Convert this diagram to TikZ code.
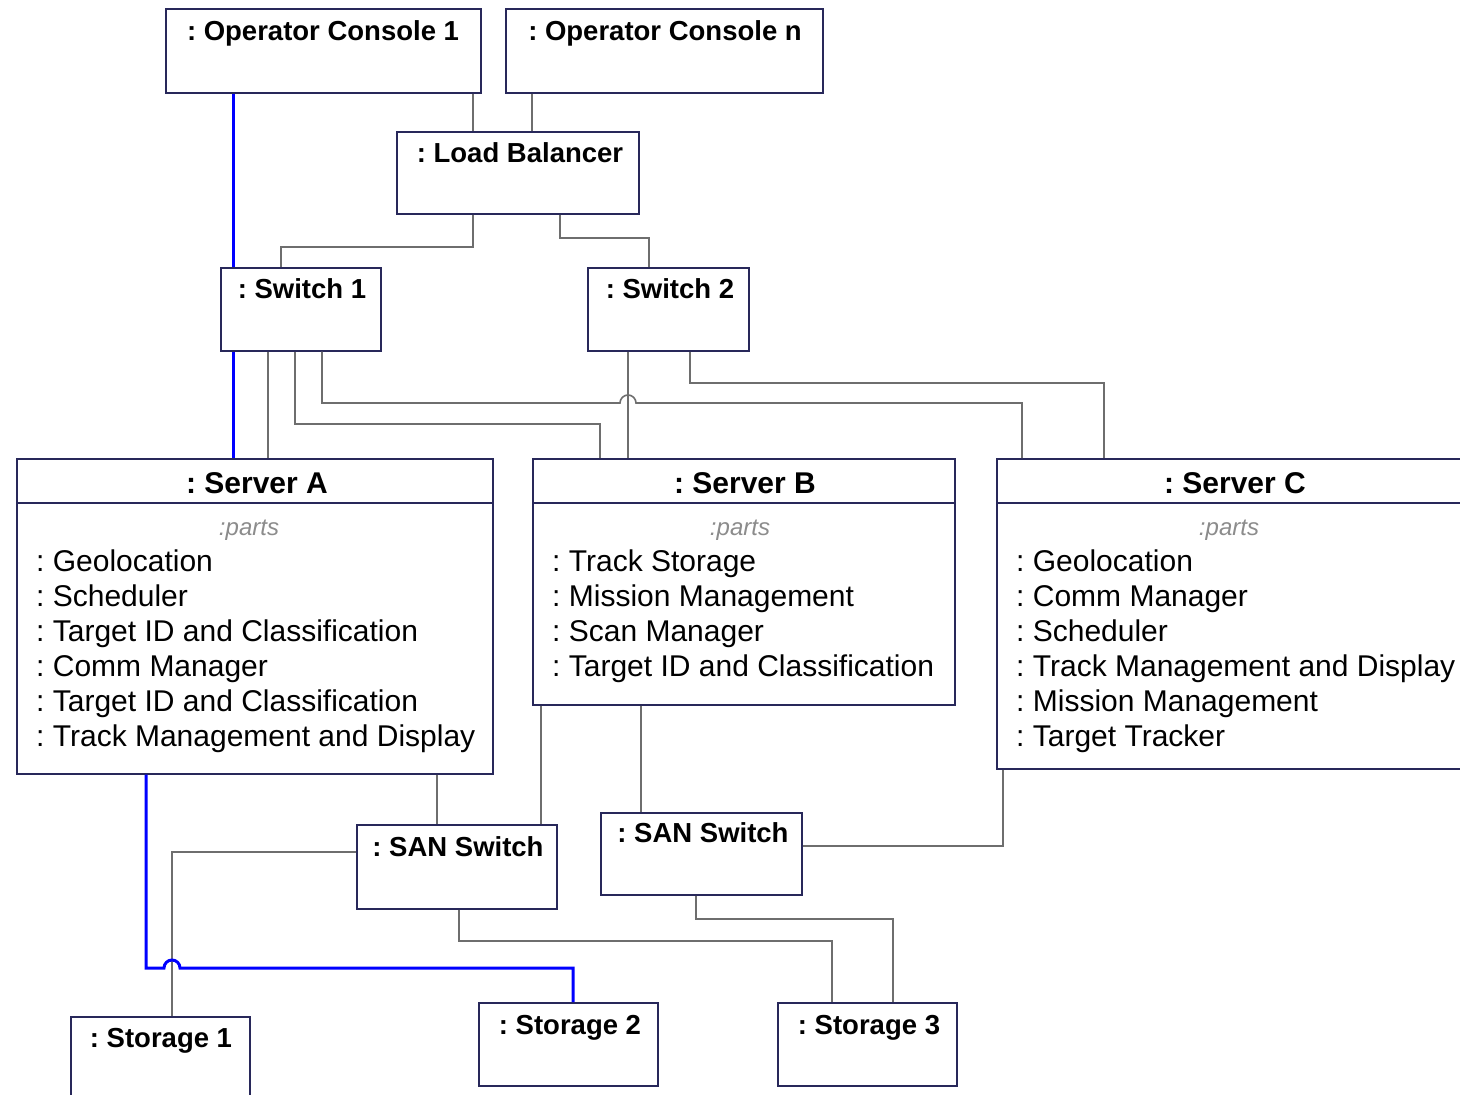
\documentclass[tikz,border=0pt]{standalone}
\usepackage{fontspec}
\setmainfont{Liberation Sans}
\frenchspacing
\begin{document}
\begin{tikzpicture}[x=1pt,y=-1pt,
  box/.style={draw=boxline,line width=1.6pt,fill=white,anchor=north west,inner sep=0pt},
  ttl/.style={font=\fontsize{27.5}{30}\selectfont\bfseries,anchor=base,inner sep=0pt},
  sttl/.style={font=\fontsize{30}{32}\selectfont\bfseries,anchor=base,inner sep=0pt},
  part/.style={font=\fontsize{30}{33}\selectfont,anchor=base west,inner sep=0pt},
  partshdr/.style={font=\fontsize{24}{26}\selectfont\itshape,text=partgrey,anchor=base,inner sep=0pt},
  wire/.style={draw=wiregrey,line width=1.6pt},
  bluewire/.style={draw=blue,line width=3pt},
]
\definecolor{boxline}{RGB}{40,40,90}
\definecolor{wiregrey}{RGB}{110,110,110}
\definecolor{partgrey}{RGB}{140,140,140}
\useasboundingbox (0,0) rectangle (1460,1095);
\fill[white] (0,0) rectangle (1460,1095);

% ---------- bend points of the links ----------
\coordinate (lbL) at (281,247);
\coordinate (lbR) at (649,238);
\coordinate (s1a) at (600,424);
\coordinate (s1b) at (1022,403);
\coordinate (s2b) at (1104,383);
\coordinate (sanL) at (172,852);
\coordinate (sanB) at (832,941);
\coordinate (san2B) at (893,919);
\coordinate (scS) at (1003,846);
\coordinate (blueC) at (573,968);

% ---------- boxes ----------
\node[box,minimum width=315pt,minimum height=84pt] (oc1) at (165,8) {};
\node[ttl] at (323,40) {: Operator Console 1};
\node[box,minimum width=317pt,minimum height=84pt] (ocn) at (505,8) {};
\node[ttl] at (665,40) {: Operator Console n};
\node[box,minimum width=242pt,minimum height=82pt] (lb) at (396,131) {};
\node[ttl] at (520,162) {: Load Balancer};
\node[box,minimum width=160pt,minimum height=83pt] (sw1) at (220,267) {};
\node[ttl] at (302,298) {: Switch 1};
\node[box,minimum width=161pt,minimum height=83pt] (sw2) at (587,267) {};
\node[ttl] at (670,298) {: Switch 2};

% Server A
\node[box,minimum width=476pt,minimum height=315pt] (sa) at (16,458) {};
\draw[boxline,line width=1.6pt] (sa.west |- 0,503) -- (sa.east |- 0,503);
\node[sttl] at (257,493) {: Server A};
\node[partshdr] at (249,535) {:parts};
\foreach \t [count=\i] in {Geolocation,Scheduler,Target ID and Classification,Comm Manager,Target ID and Classification,Track Management and Display}
  \node[part] at (36,536+35*\i) {: \t};

% Server B
\node[box,minimum width=422pt,minimum height=246pt] (sb) at (532,458) {};
\draw[boxline,line width=1.6pt] (sb.west |- 0,503) -- (sb.east |- 0,503);
\node[sttl] at (745,493) {: Server B};
\node[partshdr] at (740,535) {:parts};
\foreach \t [count=\i] in {Track Storage,Mission Management,Scan Manager,Target ID and Classification}
  \node[part] at (552,536+35*\i) {: \t};

% Server C
\node[box,minimum width=474pt,minimum height=310pt] (sc) at (996,458) {};
\draw[boxline,line width=1.6pt] (sc.west |- 0,503) -- (sc.east |- 0,503);
\node[sttl] at (1235,493) {: Server C};
\node[partshdr] at (1229,535) {:parts};
\foreach \t [count=\i] in {Geolocation,Comm Manager,Scheduler,Track Management and Display,Mission Management,Target Tracker}
  \node[part] at (1016,536+35*\i) {: \t};

\node[box,minimum width=200pt,minimum height=84pt] (san1) at (356,824) {};
\node[ttl] at (458,856) {: SAN Switch};
\node[box,minimum width=201pt,minimum height=82pt] (san2) at (600,812) {};
\node[ttl] at (703,842) {: SAN Switch};
\node[box,minimum width=179pt,minimum height=90pt] (st1) at (70,1016) {};
\node[ttl] at (161,1047) {: Storage 1};
\node[box,minimum width=179pt,minimum height=83pt] (st2) at (478,1002) {};
\node[ttl] at (570,1034) {: Storage 2};
\node[box,minimum width=179pt,minimum height=83pt] (st3) at (777,1002) {};
\node[ttl] at (869,1034) {: Storage 3};

% ---------- grey links ----------
\draw[wire] ([xshift=308pt]oc1.south west) -- ([xshift=77pt]lb.north west);
\draw[wire] ([xshift=27pt]ocn.south west) -- ([xshift=136pt]lb.north west);
\draw[wire] ([xshift=77pt]lb.south west) |- (lbL) -- (sw1.north -| lbL);
\draw[wire] ([xshift=164pt]lb.south west) |- (lbR) -- (sw2.north -| lbR);
\draw[wire] ([xshift=48pt]sw1.south west) -- ([xshift=252pt]sa.north west);
\draw[wire] ([xshift=75pt]sw1.south west) |- (s1a) -- (sb.north -| s1a);
\draw[wire] ([xshift=102pt]sw1.south west) |- (620,403) arc (180:0:8pt) -- (s1b) -- (sc.north -| s1b);
\draw[wire] ([xshift=41pt]sw2.south west) -- (sb.north -| 628,0);
\draw[wire] ([xshift=103pt]sw2.south west) |- (s2b) -- (sc.north -| s2b);
\draw[wire] ([xshift=421pt]sa.south west) -- (san1.north -| 437,0);
\draw[wire] ([xshift=9pt]sb.south west) -- (san1.north -| 541,0);
\draw[wire] ([xshift=109pt]sb.south west) -- (san2.north -| 641,0);
\draw[wire] (sc.south west -| scS) |- (san2.east |- scS);
\draw[wire] (san1.west |- sanL) -| (st1.north -| sanL);
\draw[wire] ([xshift=103pt]san1.south west) |- (sanB) -- (st3.north -| sanB);
\draw[wire] ([xshift=96pt]san2.south west) |- (san2B) -- (st3.north -| san2B);

% ---------- blue path ----------
\draw[bluewire] ([xshift=68pt]oc1.south west) -- ([xshift=13pt]sw1.north west);
\draw[bluewire] ([xshift=13pt]sw1.south west) -- ([xshift=217pt]sa.north west);
\draw[bluewire,line join=miter] ([xshift=130pt]sa.south west) |- (164,968) arc (180:0:8pt) -- (blueC) -- (st2.north -| blueC);
\end{tikzpicture}
\end{document}
